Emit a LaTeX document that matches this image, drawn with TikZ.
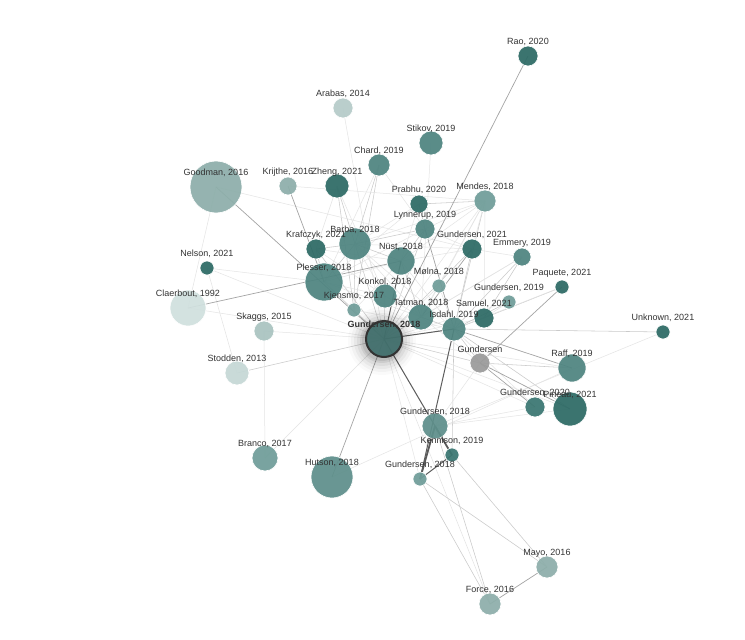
\documentclass[tikz,border=0pt]{standalone}
\usepackage{fontspec}
\setmainfont{Liberation Sans}
\pgfdeclarelayer{bg}
\pgfdeclarelayer{fg}
\pgfsetlayers{bg,main,fg}
\definecolor{cDark}{HTML}{2D6A65}
\definecolor{cDarkB}{HTML}{3A7671}
\definecolor{cMid}{HTML}{4E8480}
\definecolor{cMidB}{HTML}{5E8F8B}
\definecolor{cML}{HTML}{6F9D99}
\definecolor{cLight}{HTML}{8DAEAA}
\definecolor{cLighter}{HTML}{A9C3C0}
\definecolor{cArabas}{HTML}{B5CBC9}
\definecolor{cVL}{HTML}{C5D8D6}
\definecolor{cClaer}{HTML}{D0E0DE}
\definecolor{cGray}{HTML}{9A9A9A}
\definecolor{labc}{HTML}{333333}
\definecolor{k0}{HTML}{E4E4E4}
\definecolor{k1}{HTML}{CACACA}
\definecolor{k2}{HTML}{A4A4A4}
\definecolor{k3}{HTML}{5E5E5E}
\definecolor{k4}{HTML}{5A5A5A}
\tikzset{
  nd/.style={circle, inner sep=0pt, draw=white, line width=0.6pt, fill opacity=0.93},
  lbl/.style={font=\fontsize{9}{10}\selectfont, text=labc, inner sep=0pt},
  e0/.style={draw=k0, line width=0.5pt},
  e1/.style={draw=k1, line width=0.55pt},
  e2/.style={draw=k2, line width=0.7pt},
  e3/.style={draw=k3, line width=1pt},
  e4/.style={draw=k4, line width=1.8pt},
}
\newcommand{\gnode}[6]{%
  \node[nd, minimum size=#4*2pt, fill=#5] (#1) at (#2,#3) {};
  \begin{pgfonlayer}{fg}\node[lbl] (#1-l) at (#2,#3-14) {#6};\end{pgfonlayer}}
\newcommand{\ed}[3]{\draw[#1] (#2.center) -- (#3.center);}
\begin{document}
\begin{tikzpicture}[x=1pt,y=-1pt]
\begin{pgfonlayer}{bg}
\fill[white] (0,0) rectangle (745,640);
\end{pgfonlayer}
\useasboundingbox (0,0) rectangle (745,640);
% shadow of the main node
\foreach \r/\o in {34/0.02,31/0.03,28/0.04,25/0.05,22/0.07,20/0.08}{
  \fill[black, opacity=\o] (382,341) circle (\r);
}
\gnode{rao}{528}{56}{10}{cDark}{Rao, 2020}
\gnode{arabas}{343}{108}{10}{cArabas}{Arabas, 2014}
\gnode{stikov}{431}{143}{12}{cMid}{Stikov, 2019}
\gnode{chard}{379}{165}{11}{cMid}{Chard, 2019}
\gnode{goodman}{216}{187}{26}{cLight}{Goodman, 2016}
\gnode{krijthe}{288}{186}{9}{cLight}{Krijthe, 2016}
\gnode{zheng}{337}{186}{12}{cDark}{Zheng, 2021}
\gnode{prabhu}{419}{204}{9}{cDark}{Prabhu, 2020}
\gnode{mendes}{485}{201}{11}{cML}{Mendes, 2018}
\gnode{lynnerup}{425}{229}{10}{cMid}{Lynnerup, 2019}
\gnode{barba}{355}{244}{16}{cMid}{Barba, 2018}
\gnode{krafczyk}{316}{249}{10}{cDark}{Krafczyk, 2021}
\gnode{gundA}{472}{249}{10}{cDark}{Gundersen, 2021}
\gnode{nust}{401}{261}{14}{cMid}{Nüst, 2018}
\gnode{emmery}{522}{257}{9}{cMid}{Emmery, 2019}
\gnode{nelson}{207}{268}{7}{cDark}{Nelson, 2021}
\gnode{plesser}{324}{282}{19}{cMid}{Plesser, 2018}
\gnode{molna}{439}{286}{7}{cML}{Mølna, 2018}
\gnode{konkol}{385}{296}{12}{cMid}{Konkol, 2018}
\gnode{paquete}{562}{287}{7}{cDark}{Paquete, 2021}
\gnode{claerbout}{188}{308}{18}{cClaer}{Claerbout, 1992}
\gnode{gundB}{509}{302}{7}{cML}{Gundersen, 2019}
\gnode{kjensmo}{354}{310}{7}{cML}{Kjensmo, 2017}
\gnode{samuel}{484}{318}{10}{cDark}{Samuel, 2021}
\gnode{tatman}{421}{317}{13}{cMid}{Tatman, 2018}
\gnode{skaggs}{264}{331}{10}{cLighter}{Skaggs, 2015}
\gnode{isdahl}{454}{329}{12}{cMid}{Isdahl, 2019}
\gnode{unknown}{663}{332}{7}{cDark}{Unknown, 2021}
\gnode{gundgray}{480}{363}{10}{cGray}{Gundersen}
\gnode{stodden}{237}{373}{12}{cVL}{Stodden, 2013}
\gnode{raff}{572}{368}{14}{cMid}{Raff, 2019}
\gnode{pineau}{570}{409}{17}{cDark}{Pineau, 2021}
\gnode{gundC}{535}{407}{10}{cDarkB}{Gundersen, 2020}
\gnode{gundD}{435}{426}{13}{cMidB}{Gundersen, 2018}
\gnode{kennison}{452}{455}{7}{cDarkB}{Kennison, 2019}
\gnode{branco}{265}{458}{13}{cML}{Branco, 2017}
\gnode{hutson}{332}{477}{21}{cMidB}{Hutson, 2018}
\gnode{gundE}{420}{479}{7}{cML}{Gundersen, 2018}
\gnode{mayo}{547}{567}{11}{cLight}{Mayo, 2016}
\gnode{force}{490}{604}{11}{cLight}{Force, 2016}
% main node
\node[circle, inner sep=0pt, minimum size=36pt, fill=cMid!85!black, fill opacity=0.95, draw=labc, line width=2pt] (main) at (384,339) {};
\begin{pgfonlayer}{fg}\node[lbl, font=\fontsize{9}{10}\selectfont\bfseries] (main-l) at (384,325) {Gundersen, 2018};\end{pgfonlayer}
\begin{pgfonlayer}{bg}
\ed{e0}{hutson}{raff}
\ed{e0}{main}{branco}
\ed{e1}{main}{stodden}
\ed{e0}{skaggs}{branco}
\ed{e0}{nelson}{stodden}
\ed{e0}{goodman}{claerbout}
\ed{e0}{skaggs}{main}
\ed{e0}{claerbout}{main}
\ed{e0}{nelson}{main}
\ed{e0}{nelson}{plesser}
\ed{e0}{arabas}{main}
\ed{e0}{stikov}{tatman}
\ed{e1}{chard}{kjensmo}
\ed{e0}{chard}{plesser}
\ed{e1}{chard}{barba}
\ed{e0}{chard}{lynnerup}
\ed{e1}{zheng}{barba}
\ed{e1}{zheng}{kjensmo}
\ed{e0}{zheng}{konkol}
\ed{e0}{zheng}{krafczyk}
\ed{e0}{krijthe}{mendes}
\ed{e0}{goodman}{gundA}
\ed{e1}{prabhu}{mendes}
\ed{e1}{prabhu}{lynnerup}
\ed{e0}{prabhu}{barba}
\ed{e0}{prabhu}{plesser}
\ed{e0}{prabhu}{nust}
\ed{e0}{mendes}{lynnerup}
\ed{e0}{mendes}{nust}
\ed{e0}{mendes}{barba}
\ed{e0}{mendes}{tatman}
\ed{e1}{mendes}{isdahl}
\ed{e0}{mendes}{main}
\ed{e0}{mendes}{gundA}
\ed{e0}{mendes}{molna}
\ed{e0}{mendes}{samuel}
\ed{e2}{lynnerup}{isdahl}
\ed{e1}{lynnerup}{barba}
\ed{e1}{lynnerup}{nust}
\ed{e1}{lynnerup}{main}
\ed{e0}{lynnerup}{plesser}
\ed{e2}{gundA}{tatman}
\ed{e1}{gundA}{isdahl}
\ed{e1}{gundA}{main}
\ed{e0}{gundA}{nust}
\ed{e0}{gundA}{barba}
\ed{e0}{gundA}{lynnerup}
\ed{e0}{gundA}{emmery}
\ed{e1}{emmery}{isdahl}
\ed{e1}{emmery}{samuel}
\ed{e0}{emmery}{main}
\ed{e0}{emmery}{tatman}
\ed{e1}{krafczyk}{barba}
\ed{e1}{krafczyk}{plesser}
\ed{e0}{krafczyk}{nust}
\ed{e1}{krafczyk}{main}
\ed{e0}{krafczyk}{konkol}
\ed{e1}{barba}{main}
\ed{e1}{barba}{plesser}
\ed{e1}{barba}{nust}
\ed{e1}{barba}{kjensmo}
\ed{e0}{barba}{konkol}
\ed{e0}{barba}{tatman}
\ed{e0}{barba}{isdahl}
\ed{e1}{plesser}{main}
\ed{e0}{plesser}{kjensmo}
\ed{e0}{plesser}{nust}
\ed{e0}{plesser}{konkol}
\ed{e0}{plesser}{isdahl}
\ed{e1}{nust}{tatman}
\ed{e0}{nust}{isdahl}
\ed{e0}{nust}{kjensmo}
\ed{e0}{molna}{main}
\ed{e0}{molna}{isdahl}
\ed{e0}{molna}{tatman}
\ed{e1}{konkol}{main}
\ed{e0}{konkol}{tatman}
\ed{e1}{kjensmo}{main}
\ed{e0}{kjensmo}{isdahl}
\ed{e1}{tatman}{main}
\ed{e1}{tatman}{isdahl}
\ed{e1}{samuel}{isdahl}
\ed{e0}{samuel}{main}
\ed{e1}{samuel}{paquete}
\ed{e1}{gundB}{isdahl}
\ed{e0}{gundB}{main}
\ed{e0}{gundB}{samuel}
\ed{e0}{isdahl}{paquete}
\ed{e1}{isdahl}{unknown}
\ed{e1}{isdahl}{gundgray}
\ed{e1}{isdahl}{pineau}
\ed{e0}{isdahl}{gundC}
\ed{e1}{isdahl}{kennison}
\ed{e1}{main}{gundgray}
\ed{e0}{main}{raff}
\ed{e0}{main}{pineau}
\ed{e0}{main}{gundC}
\ed{e0}{main}{force}
\ed{e0}{main}{kennison}
\ed{e0}{main}{gundE}
\ed{e0}{tatman}{gundgray}
\ed{e1}{gundgray}{raff}
\ed{e0}{gundgray}{gundD}
\ed{e0}{gundD}{gundC}
\ed{e0}{gundD}{pineau}
\ed{e0}{unknown}{gundD}
\ed{e2}{goodman}{main}
\ed{e2}{rao}{main}
\ed{e2}{claerbout}{nust}
\ed{e2}{krijthe}{plesser}
\ed{e2}{paquete}{gundgray}
\ed{e2}{isdahl}{raff}
\ed{e2}{gundgray}{pineau}
\ed{e2}{gundgray}{gundC}
\ed{e2}{mayo}{force}
\ed{e1}{kennison}{mayo}
\ed{e1}{gundE}{mayo}
\ed{e1}{gundE}{force}
\ed{e1}{gundD}{force}
\ed{e2}{main}{hutson}
\ed{e3}{nust}{main}
\ed{e3}{main}{isdahl}
\ed{e3}{main}{gundD}
\ed{e3}{kennison}{gundE}
\ed{e3}{isdahl}{gundE}
\ed{e4}{gundD}{kennison}
\ed{e4}{gundD}{gundE}
\end{pgfonlayer}
\end{tikzpicture}
\end{document}
